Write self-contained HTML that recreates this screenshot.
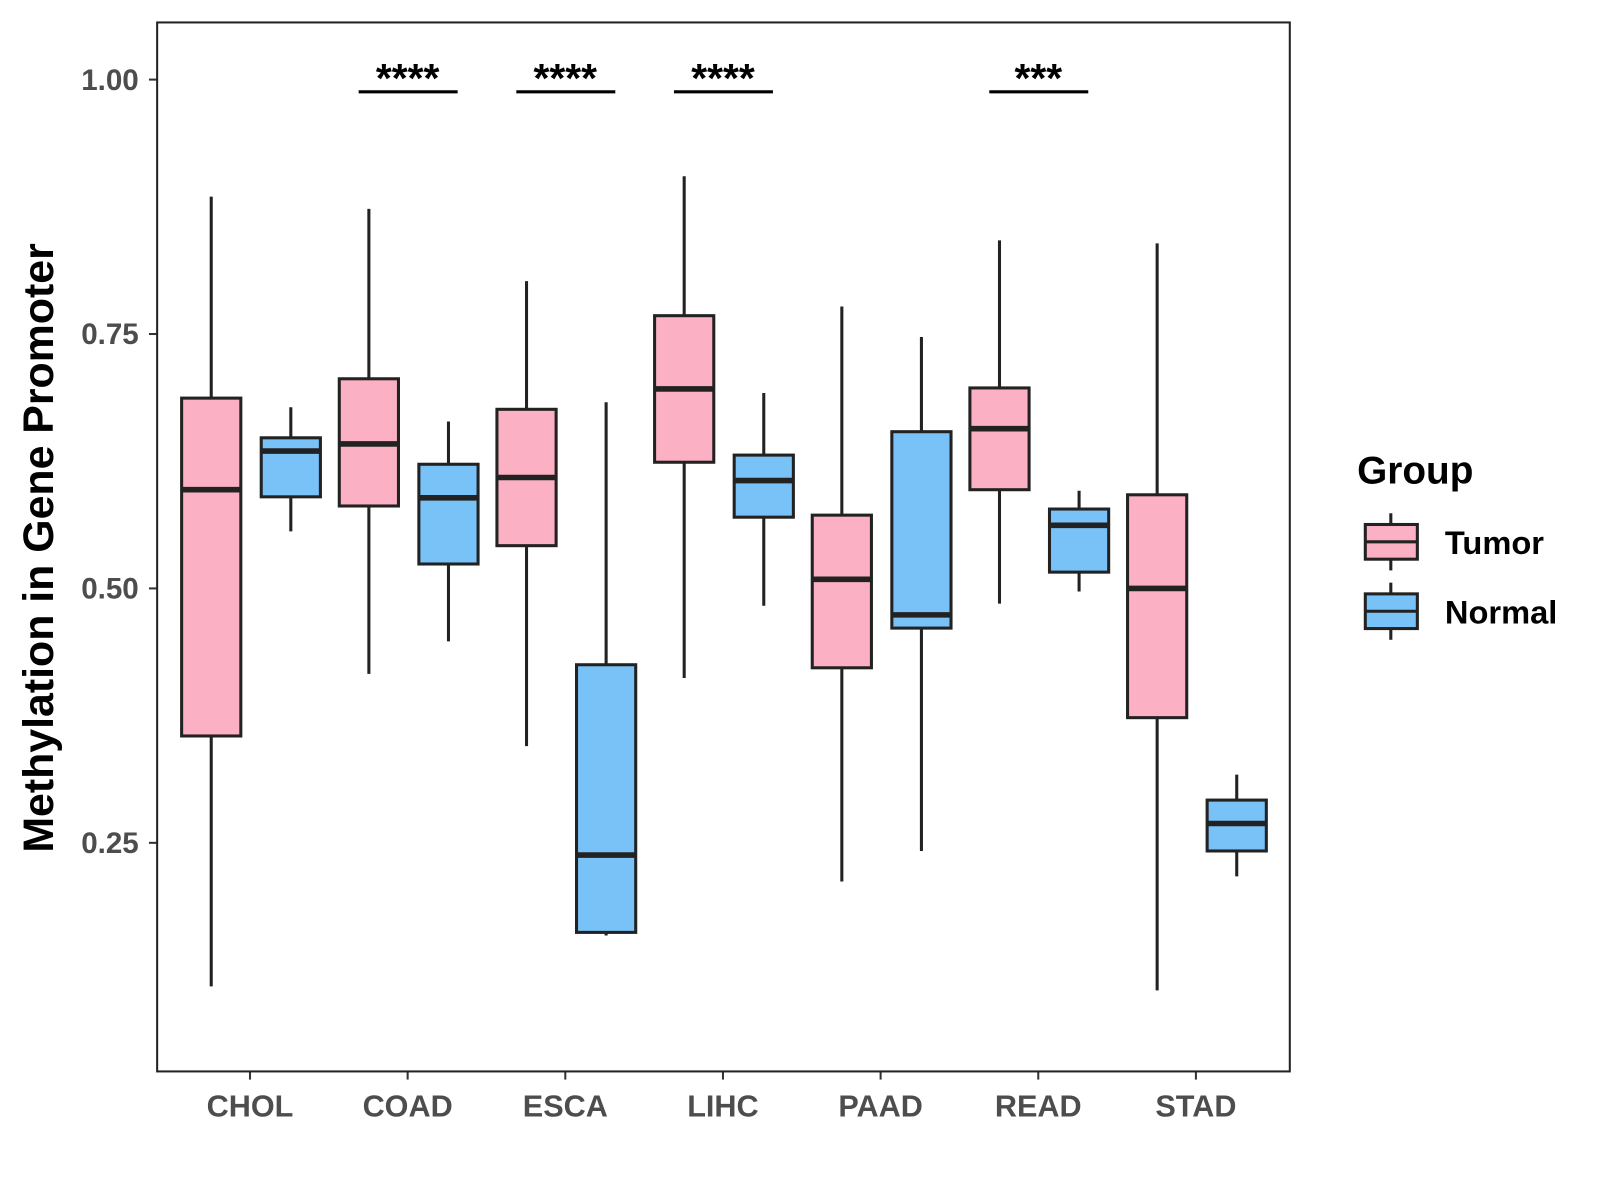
<!DOCTYPE html>
<html><head><meta charset="utf-8"><style>
html,body{margin:0;padding:0;background:#fff}
svg{display:block;font-family:"Liberation Sans",Arial,sans-serif}
</style></head><body>
<svg id="chart" width="1600" height="1200" viewBox="0 0 1568 1176">
<rect x="0" y="0" width="1568" height="1176" fill="#fff"/>
<g id="plot"></g>
<rect x="154" y="22" width="1110" height="1028" fill="none" stroke="#222" stroke-width="2"/>
<text transform="translate(52,537) rotate(-90)" text-anchor="middle" font-size="42" font-weight="bold" fill="#000">Methylation in Gene Promoter</text>
<g>
<text x="1330" y="474" font-size="38" font-weight="bold" fill="#000">Group</text>
<g>
<line x1="1363" y1="503" x2="1363" y2="559" stroke="#222" stroke-width="3"/>
<rect x="1338" y="514" width="51" height="34" fill="#FBB1C3" stroke="#222" stroke-width="3"/>
<line x1="1338" y1="531" x2="1389" y2="531" stroke="#222" stroke-width="3"/>
<text x="1416" y="543" font-size="32" font-weight="bold" fill="#000">Tumor</text>
</g>
<g>
<line x1="1363" y1="571" x2="1363" y2="627" stroke="#222" stroke-width="3"/>
<rect x="1338" y="582" width="51" height="34" fill="#79C2F8" stroke="#222" stroke-width="3"/>
<line x1="1338" y1="599" x2="1389" y2="599" stroke="#222" stroke-width="3"/>
<text x="1416" y="611" font-size="32" font-weight="bold" fill="#000">Normal</text>
</g>
</g>
</svg>
<script>
const categories = ["CHOL","COAD","ESCA","LIHC","PAAD","READ","STAD"];
// [low, q1, median, q3, high]
const tumorStats = [
 [0.109,0.355,0.597,0.687,0.885],
 [0.416,0.581,0.642,0.706,0.873],
 [0.345,0.542,0.609,0.676,0.802],
 [0.412,0.624,0.696,0.768,0.905],
 [0.212,0.422,0.509,0.572,0.777],
 [0.485,0.597,0.657,0.697,0.842],
 [0.105,0.373,0.500,0.592,0.839]
];
const normalStats = [
 [0.556,0.590,0.635,0.648,0.678],
 [0.448,0.524,0.589,0.622,0.664],
 [0.159,0.162,0.238,0.425,0.683],
 [0.483,0.570,0.606,0.631,0.692],
 [0.242,0.461,0.474,0.654,0.747],
 [0.497,0.516,0.562,0.578,0.596],
 [0.217,0.242,0.269,0.292,0.317]
];
const signif = ["","****","****","****","","***",""];
const yTicks = [0.25,0.50,0.75,1.00];
const yTickLabels = ["0.25","0.50","0.75","1.00"];

const NS="http://www.w3.org/2000/svg";
const plot=document.getElementById('plot');
function y(v){return 78+(1-v)*997.3;}
function x(i){return 245+i*154.5;}
function mk(tag,attrs,parent){const e=document.createElementNS(NS,tag);for(const k in attrs)e.setAttribute(k,attrs[k]);(parent||plot).appendChild(e);return e;}

yTicks.forEach((t,i)=>{
  const g=mk('g',{});
  
  
  mk('line',{x1:146,x2:154,y1:y(t),y2:y(t),stroke:'#333','stroke-width':2},g);
  const tx=mk('text',{x:136,y:y(t)+10,'text-anchor':'end','font-size':29,'font-weight':'bold',fill:'#4d4d4d'},g);
  tx.textContent=yTickLabels[i];
});
categories.forEach((c,i)=>{
  const g=mk('g',{});
  
  
  mk('line',{x1:x(i),x2:x(i),y1:1050,y2:1058,stroke:'#333','stroke-width':2},g);
  const tx=mk('text',{x:x(i),y:1094,'text-anchor':'middle','font-size':30,'font-weight':'bold',fill:'#4d4d4d'},g);
  tx.textContent=c;
});
function box(i,s,off,fill,name){
  const cx=x(i)+off,w=58;
  const g=mk('g',{});
  
  
  mk('line',{x1:cx,x2:cx,y1:y(s[4]),y2:y(s[0]),stroke:'#222','stroke-width':3},g);
  mk('rect',{x:cx-w/2,y:y(s[3]),width:w,height:y(s[1])-y(s[3]),fill:fill,stroke:'#222','stroke-width':3},g);
  mk('line',{x1:cx-w/2,x2:cx+w/2,y1:y(s[2]),y2:y(s[2]),stroke:'#222','stroke-width':5.5},g);
}
categories.forEach((c,i)=>{
  box(i,tumorStats[i],-38,'#FBB1C3','box-tumor-'+c.toLowerCase());
  box(i,normalStats[i],40,'#79C2F8','box-normal-'+c.toLowerCase());
  if(signif[i]){
    const g=mk('g',{});
    
    
    mk('line',{x1:x(i)-48,x2:x(i)+49,y1:90,y2:90,stroke:'#000','stroke-width':3},g);
    const t=mk('text',{x:x(i),y:90,'text-anchor':'middle','font-size':40,'font-weight':'bold',fill:'#000'},g);
    t.textContent=signif[i];
  }
});
</script>
</body></html>
